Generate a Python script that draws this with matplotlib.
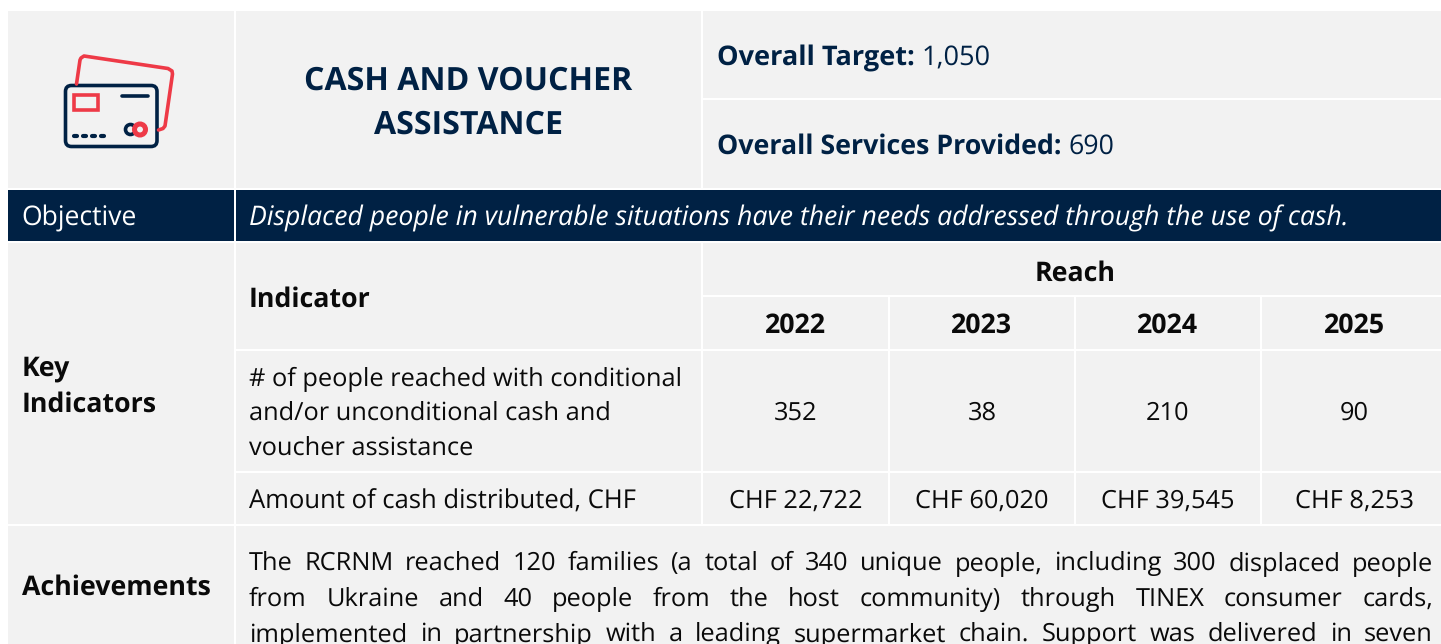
# -*- coding: utf-8 -*-
import matplotlib.pyplot as plt
from matplotlib.patches import Rectangle, FancyBboxPatch, Circle

NAVY = '#002144'
RED = '#EE3A47'
GREY = '#F2F2F2'
BLACK = '#0A0A0A'

plt.rcParams['font.family'] = ['Open Sans', 'DejaVu Sans']
plt.rcParams['text.hinting'] = 'no_hinting'

# 表格內容
title_lines = ['CASH AND VOUCHER', 'ASSISTANCE']
overall_target = ('Overall Target:', '1,050')
overall_services = ('Overall Services Provided:', '690')
objective_label = 'Objective'
objective_text = 'Displaced people in vulnerable situations have their needs addressed through the use of cash.'
years = ['2022', '2023', '2024', '2025']
people_reached = ['352', '38', '210', '90']
cash_distributed = ['CHF 22,722', 'CHF 60,020', 'CHF 39,545', 'CHF 8,253']
indicator_lines = ['# of people reached with conditional',
                   'and/or unconditional cash and',
                   'voucher assistance']
cash_label = 'Amount of cash distributed, CHF'
achievement_lines = [
    'The RCRNM reached 120 families (a total of 340 unique people, including 300 displaced people',
    'from Ukraine and 40 people from the host community) through TINEX consumer cards,',
    'implemented in partnership with a leading supermarket chain. Support was delivered in seven',
]

fig = plt.figure(figsize=(14.41, 6.44), dpi=100)
ax = fig.add_axes([0, 0, 1, 1])
ax.set_xlim(0, 1441)
ax.set_ylim(644, 0)
ax.axis('off')


def cell(x0, y0, x1, y1, color=GREY):
    ax.add_patch(Rectangle((x0, y0), x1 - x0, y1 - y0, fc=color, ec='none'))


def put(x, y, s, size=None, weight='normal', color=BLACK, ha='left', style='normal'):
    if size is None:
        size = 19.3 if weight == 'bold' else 18.3
    return ax.text(x, y, s, fontsize=size, fontweight=weight, color=color, ha=ha,
                   va='center_baseline', fontstyle=style)


# 儲存格
col_x = [(703, 888), (890, 1074), (1076, 1260), (1262, 1441)]
col_center = [795.5, 982, 1168, 1354.5]  # 最後一欄延伸到畫面外，文字中心不是可見範圍的中點
cell(8, 11, 234, 188)
cell(236, 11, 701, 188)
cell(703, 11, 1441, 98)
cell(703, 100, 1441, 188)
cell(8, 190, 234, 241, NAVY)
cell(236, 190, 1441, 241, NAVY)
cell(8, 243, 234, 524)
cell(236, 243, 701, 349)
cell(703, 243, 1441, 295)
cell(236, 351, 701, 471)
cell(236, 473, 701, 524)
for x0, x1 in col_x:
    cell(x0, 297, x1, 349)
    cell(x0, 351, x1, 471)
    cell(x0, 473, x1, 524)
cell(8, 526, 234, 644)
cell(236, 526, 1441, 644)

# 圖示：後方紅色卡片
ax.plot([76.5, 80, 81, 84, 168, 172, 172.5, 165, 163, 158.5],
        [84, 60, 58, 56, 68.5, 71, 74, 126, 128.5, 130],
        color=RED, lw=2.6, solid_joinstyle='round', solid_capstyle='round')
# 圖示：前方卡片
ax.add_patch(FancyBboxPatch((69.5, 89.5), 83.5, 53, boxstyle='round,pad=4,rounding_size=6',
                            fc=GREY, ec=NAVY, lw=2.6))
ax.add_patch(Rectangle((74, 95), 24, 14.5, fc='none', ec=RED, lw=2.6))
ax.plot([122, 148], [95.5, 95.5], color=NAVY, lw=2.6, solid_capstyle='round')
for dot_x in [75, 84, 93, 102]:
    ax.plot([dot_x - 1.5, dot_x + 1.5], [136, 136], color=NAVY, lw=3.0, solid_capstyle='round')
ax.add_patch(Circle((130.5, 129.5), 5, fc='none', ec=NAVY, lw=2.6))
ax.add_patch(Circle((140, 129.5), 5.5, fc=GREY, ec=RED, lw=3.6, zorder=3))

# 標題區
for y, line in zip([78, 122], title_lines):
    put(468.5, y, line, size=23.1, weight='bold', color=NAVY, ha='center')

renderer = fig.canvas.get_renderer()


def label_value(y, pair, size):
    t = put(717, y, pair[0], size=size, weight='bold', color=NAVY)
    bb = t.get_window_extent(renderer)
    put(bb.x1 + 6.5, y, pair[1], size=size, color=NAVY)


label_value(55, overall_target, 19.5)
label_value(143.5, overall_services, 19.3)

# Objective 列
put(21.5, 215.5, objective_label, size=19.1, color='white')
put(249, 215.5, objective_text, size=19.17, color='white', style='italic')

# 指標表
put(249, 296, 'Indicator', weight='bold')
put(1075, 270, 'Reach', weight='bold', ha='center')
put(21.5, 365.5, 'Key', weight='bold')
put(21.5, 401.5, 'Indicators', weight='bold')
for xc, yr, n, chf in zip(col_center, years, people_reached, cash_distributed):
    put(xc, 322.5, yr, weight='bold', ha='center')
    put(xc, 410.5, n, ha='center')
    put(xc, 498.5, chf, ha='center')
for y, line in zip([376.5, 410.5, 445.5], indicator_lines):
    put(249, y, line)
put(249, 498.5, cash_label, size=18.45)

# Achievements（左右對齊）
put(21.5, 584, 'Achievements', weight='bold')
left, right = 249, 1433
for y, line in zip([560.5, 596, 631.5], achievement_lines):
    words = line.split(' ')
    items = [put(left, y, w) for w in words]
    widths = [t.get_window_extent(renderer).width for t in items]
    gap = (right - left - sum(widths)) / (len(words) - 1)
    x = left
    for t, w in zip(items, widths):
        t.set_x(x)
        x += w + gap

fig.savefig('out.png', dpi=100)
